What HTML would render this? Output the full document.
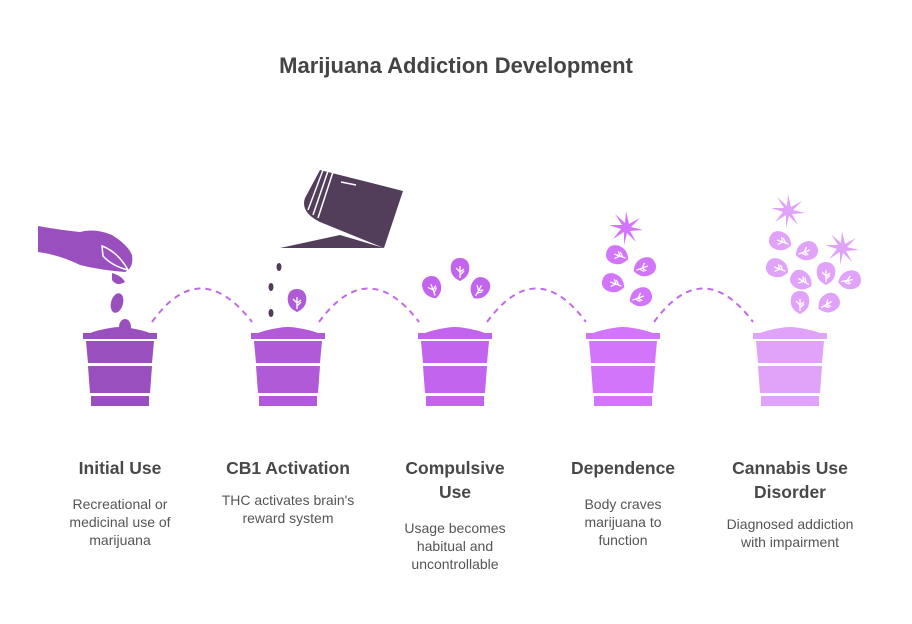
<!DOCTYPE html>
<html><head><style>
body{margin:0;background:#fff;width:912px;height:624px;overflow:hidden}
svg{display:block}
.t{font-family:"Liberation Sans",sans-serif;font-weight:bold;font-size:17.5px;fill:#484848;text-anchor:middle}
.d{font-family:"Liberation Sans",sans-serif;font-size:14px;fill:#555;text-anchor:middle}
</style></head><body>
<svg width="912" height="624" viewBox="0 0 912 624">
<defs>
<g id="pot">
<path d="M-30,0 Q-22,-3 -10,-5 Q0,-7 10,-5 Q22,-3 30,0 Z"/>
<rect x="-37" y="0" width="74" height="6"/>
<path d="M-34,8 L34,8 L32,30 L-32,30 Z"/>
<path d="M-32,33 L32,33 L30,60 L-30,60 Z"/>
<path d="M-29,63 L29,63 L29,73 L-29,73 Z"/>
</g>
<g id="leaf">
<path d="M0,-11 C9,-11 11,-2 8,5 C6,9 2,11 0,12 C-2,11 -6,9 -8,5 C-11,-2 -9,-11 0,-11 Z"/>
<path d="M0,9 L0,-3 M0,3 L-4,-1 M0,3 L4,0 M0,6 L4,2" stroke="#fff" stroke-width="1.3" fill="none"/>
</g>
<g id="flower">
<path d="M0,-17 L3,-4 L14,-10 L5,-1 L17,2 L4,3 L10,14 L1,5 L-2,17 L-2,4 L-13,11 L-5,1 L-17,-3 L-4,-3 L-11,-14 L-1,-5 Z"/>
</g>
</defs>
<text x="456" y="73" class="t" style="font-size:22px;fill:#444">Marijuana Addiction Development</text>

<g fill="none" stroke="#c06be9" stroke-width="2" stroke-dasharray="6,5">
<path d="M152,322 Q200,255 252,322"/>
<path d="M319,322 Q368,255 419,322"/>
<path d="M487,322 Q536,255 586,322"/>
<path d="M654,322 Q703,255 753,322"/>
</g>

<use href="#pot" x="120" y="333" fill="#9a4fbf"/>
<use href="#pot" x="288" y="333" fill="#b05ad8"/>
<use href="#pot" x="455" y="333" fill="#c264ee"/>
<use href="#pot" x="623" y="333" fill="#d375fb"/>
<use href="#pot" x="790" y="333" fill="#e0a3f9"/>

<!-- hand -->
<path d="M38,226 L38,252 Q60,255 80,265 Q100,270 125,272 Q134,268 132,255 Q128,245 112,235 Q95,228 80,232 Q60,230 38,226 Z" fill="#9a4fbf"/>
<path d="M102,246 Q118,252 128,270 Q112,266 103,256 Z" fill="none" stroke="#fff" stroke-width="1.5"/>
<path d="M112,273 Q122,276 125,282 Q117,287 112,280 Z" fill="#9a4fbf"/>
<ellipse cx="117" cy="303" rx="6" ry="10" fill="#9a4fbf" transform="rotate(15 117 303)"/>
<ellipse cx="125" cy="327" rx="6" ry="8" fill="#9a4fbf"/>

<!-- watering can -->
<g fill="#523e5b">
<path d="M320,170 L403,191 L384,248 L320,222 Q300,212 305,198 Z"/>
<path d="M280,248 L340,235 L384,248 Z"/>
</g>
<g stroke="#fff" stroke-width="1.5">
<line x1="323" y1="170" x2="308" y2="210"/><line x1="328" y1="171" x2="313" y2="215"/><line x1="333" y1="172" x2="318" y2="218"/>
<line x1="341" y1="182" x2="356" y2="185"/>
</g>
<g fill="#523e5b">
<ellipse cx="279" cy="267" rx="2.5" ry="4"/><ellipse cx="271" cy="287" rx="2.5" ry="4"/><ellipse cx="271" cy="313" rx="2.5" ry="4"/>
</g>
<use href="#leaf" x="297" y="300" fill="#b05ad8"/>

<g fill="#c264ee">
<use href="#leaf" x="432" y="287" transform="rotate(-20 432 287)"/>
<use href="#leaf" x="460" y="269"/>
<use href="#leaf" x="480" y="288" transform="rotate(30 480 288)"/>
</g>
<g fill="#d375fb">
<use href="#flower" x="626" y="228"/>
<use href="#leaf" x="617" y="255" transform="rotate(-70 617 255)"/>
<use href="#leaf" x="645" y="267" transform="rotate(70 645 267)"/>
<use href="#leaf" x="613" y="283" transform="rotate(-70 613 283)"/>
<use href="#leaf" x="641" y="297" transform="rotate(70 641 297)"/>
</g>
<g fill="#e0a3f9">
<use href="#flower" x="788" y="211"/>
<use href="#flower" x="842" y="248"/>
<use href="#leaf" x="780" y="241" transform="rotate(-70 780 241)"/>
<use href="#leaf" x="807" y="251" transform="rotate(70 807 251)"/>
<use href="#leaf" x="777" y="268" transform="rotate(-70 777 268)"/>
<use href="#leaf" x="801" y="280" transform="rotate(-60 801 280)"/>
<use href="#leaf" x="826" y="273"/>
<use href="#leaf" x="850" y="280" transform="rotate(80 850 280)"/>
<use href="#leaf" x="800" y="302"/>
<use href="#leaf" x="829" y="303" transform="rotate(60 829 303)"/>
</g>

<text class="t" x="120" y="474">Initial Use</text>
<text class="d" x="120" y="509">Recreational or</text>
<text class="d" x="120" y="527">medicinal use of</text>
<text class="d" x="120" y="545">marijuana</text>

<text class="t" x="288" y="474">CB1 Activation</text>
<text class="d" x="288" y="505">THC activates brain's</text>
<text class="d" x="288" y="523">reward system</text>

<text class="t" x="455" y="474">Compulsive</text>
<text class="t" x="455" y="498">Use</text>
<text class="d" x="455" y="533">Usage becomes</text>
<text class="d" x="455" y="551">habitual and</text>
<text class="d" x="455" y="569">uncontrollable</text>

<text class="t" x="623" y="474">Dependence</text>
<text class="d" x="623" y="509">Body craves</text>
<text class="d" x="623" y="527">marijuana to</text>
<text class="d" x="623" y="545">function</text>

<text class="t" x="790" y="474">Cannabis Use</text>
<text class="t" x="790" y="498">Disorder</text>
<text class="d" x="790" y="529">Diagnosed addiction</text>
<text class="d" x="790" y="547">with impairment</text>
</svg>
</body></html>
